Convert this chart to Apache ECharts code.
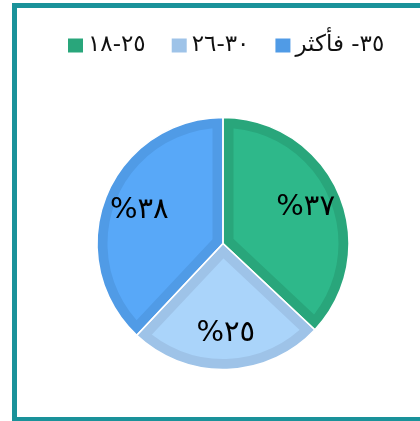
<!DOCTYPE html>
<html><head><meta charset="utf-8">
<script src="https://cdn.jsdelivr.net/npm/echarts@6/dist/echarts.min.js"></script>
<style>
html,body{margin:0;padding:0;background:#fff;overflow:hidden;width:420px;height:421px}
#frame{position:absolute;left:12px;top:3px;width:500px;height:409px;border:5px solid #1a929a}
#chart{position:absolute;left:0;top:0;width:420px;height:421px}
</style></head><body>
<div id="frame"></div>
<div id="chart"></div>
<script>
const categories = ['١٨-٢٥', '٢٦-٣٠', '٣٥- فأكثر'];
const values = [37, 25, 38];
const fillColors = ['#2eb88a', '#aad4fa', '#58a8f8'];
const bandColors = ['#29a67b', '#9ec3e8', '#509be6'];

const toArabicDigits = s => String(s).replace(/[0-9]/g, d => '٠١٢٣٤٥٦٧٨٩'[d]);
const LRM = '\u200E';
const ltrName = n => /^[\u0660-\u0669]+-[\u0660-\u0669]+$/.test(n) ? n.replace('-', LRM + '-' + LRM) : n;
const FONT = 'DejaVu Sans';
const CENTER = [223, 243.5];
const R = 126;

const chart = echarts.init(document.getElementById('chart'), null, {renderer: 'canvas'});
chart.setOption({
  animation: false,
  legend: {
    top: 29, left: 63, icon: 'rect', itemWidth: 15, itemHeight: 14, itemGap: 26,
    selectedMode: false,
    formatter: n => ltrName(n),
    textStyle: {fontSize: 23, color: '#111', fontFamily: FONT},
    data: categories.map((n, i) => ({name: n, itemStyle: {color: bandColors[i], borderWidth: 0}}))
  },
  series: [
    {
      type: 'pie', center: CENTER, radius: R, startAngle: 90, clockwise: true, silent: true,
      label: {show: false}, labelLine: {show: false},
      data: categories.map((n, i) => ({
        name: n, value: values[i],
        itemStyle: {color: fillColors[i], borderColor: bandColors[i], borderWidth: 21, borderJoin: 'miter', borderMiterLimit: 30}
      }))
    },
    {
      type: 'pie', center: CENTER, radius: R, startAngle: 90, clockwise: true, silent: true,
      label: {show: false}, labelLine: {show: false},
      itemStyle: {color: 'rgba(0,0,0,0)', borderColor: '#ffffff', borderWidth: 1.5},
      data: categories.map((n, i) => ({name: n, value: values[i]}))
    },
    {
      type: 'pie', center: CENTER, radius: [48, R], startAngle: 90, clockwise: true, silent: true,
      itemStyle: {color: 'rgba(0,0,0,0)', borderWidth: 0},
      labelLine: {show: false},
      label: {show: true, position: 'inside', formatter: p => '%' + toArabicDigits(p.value),
        fontSize: 29, color: '#000', fontFamily: FONT},
      data: categories.map((n, i) => ({name: n, value: values[i]}))
    }
  ]
});

// clip the main pie's borders to each slice so the band sits inside it
const mainData = chart.getModel().getSeriesByIndex(0).getData();
mainData.each(idx => {
  const el = mainData.getItemGraphicEl(idx);
  if (el && el.shape) {
    el.setClipPath(new echarts.graphic.Sector({shape: Object.assign({}, el.shape)}));
  }
});
chart.getZr().refreshImmediately();
</script>
</body></html>
